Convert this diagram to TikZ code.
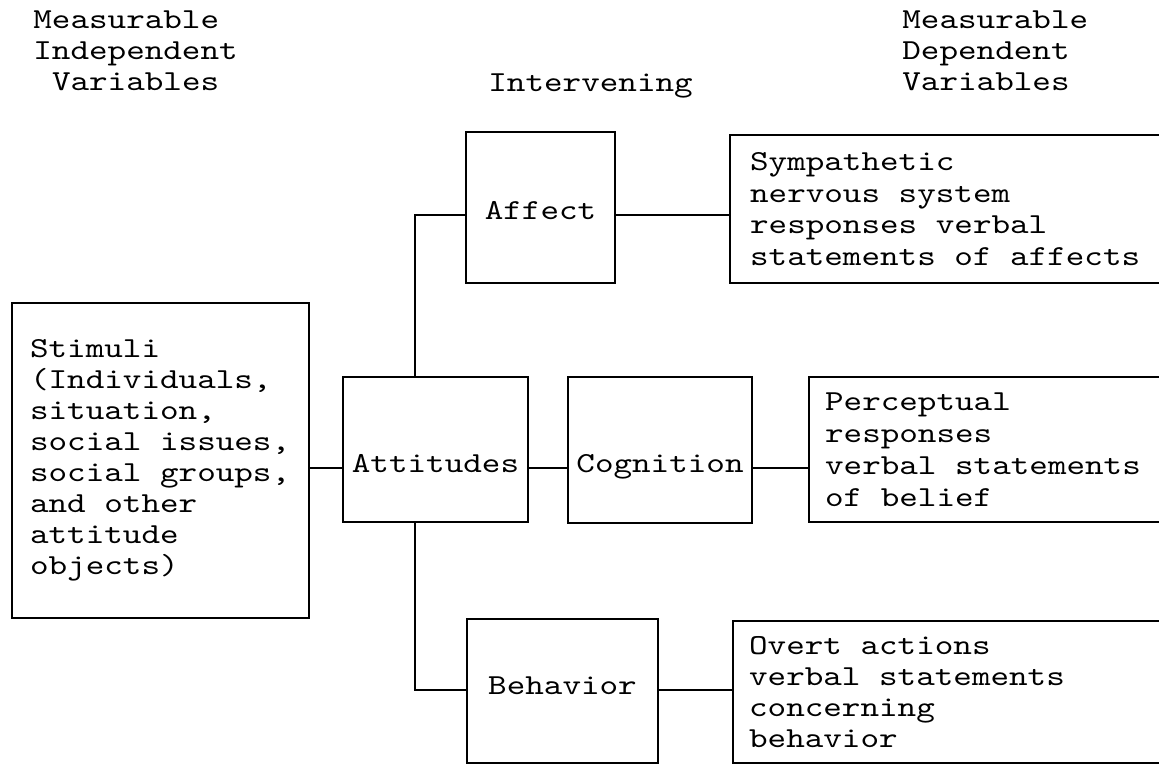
\documentclass[tikz,border=0pt]{standalone}
\usepackage{fontspec}
\usepackage{tikz}
\usetikzlibrary{calc,positioning}
\newfontfamily\typewriter[Extension=.otf, FakeStretch=1.22]{lmmono10-regular}
\newcommand\mono[1]{\typewriter\fontsize{14.5}{#1}\selectfont}

\begin{document}
\begin{tikzpicture}[x=0.5pt, y=-0.5pt,
  every node/.style={font=\mono{15.5pt}, execute at begin node={\spaceskip=9.3pt\relax}},
  unit/.style={draw, line width=1.1pt, inner sep=0pt, align=center},
  textbox/.style={draw, line width=1.1pt, inner ysep=0pt, align=left},
  link/.style={line width=1pt}]
\clip (0,0) rectangle (1159,765);

% column headings
\node[anchor=west, inner sep=0pt, align=left] (indep) at (33,51) {Measurable\\Independent\\\hspace*{9.3pt}Variables};
\node[anchor=base west, inner sep=0pt] (interv) at (488,91) {Intervening};
\node[anchor=west, inner sep=0pt, align=left] (dep) at (902,51) {Measurable\\Dependent\\Variables};

% independent variables
\node[textbox, anchor=west, inner xsep=9pt, text width=130.5pt, minimum height=157.5pt] (stim) at (11,460.5)
  {Stimuli\\(Individuals,\\situation,\\social issues,\\social groups,\\and other\\attitude\\objects)};

% intervening
\node[unit, anchor=base, minimum width=92.5pt, text height=47.5pt, text depth=25pt] (att) at (435.5,472) {Attitudes};
\node[unit, anchor=base, minimum width=74.5pt, text height=43.5pt, text depth=32pt] (aff) at (540.5,219) {Affect};
\node[unit, anchor=base, minimum width=92pt, text height=47.75pt, text depth=25.25pt] (cog) at (660,472.5) {Cognition};
\node[unit, anchor=base, minimum width=95.5pt, text height=37.5pt, text depth=34.5pt] (beh) at (562.5,694) {Behavior};

% dependent variables
\node[textbox, anchor=west, inner xsep=10pt, text width=205.5pt, minimum height=74pt, font=\mono{15.85pt}] (sym) at (729,209)
  {Sympathetic\\nervous system\\responses verbal\\statements of affects};
\node[textbox, anchor=west, inner xsep=8pt, text width=170pt, minimum height=72.5pt, font=\mono{16pt}] (perc) at (808,449.5)
  {Perceptual\\responses\\verbal statements\\of belief};
\node[textbox, anchor=west, inner xsep=8pt, text width=208pt, minimum height=71pt] (overt) at (732,692)
  {Overt actions\\verbal statements\\concerning\\behavior};

% connectors
\draw[link] (stim.east |- att.mid west) -- (att.mid west);
\draw[link] (att.mid east) -- (att.mid east -| cog.west);
\draw[link] (cog.mid east) -- (cog.mid east -| perc.west);
\draw[link] (aff.mid east) -- (aff.mid east -| sym.west);
\draw[link] (beh.mid east) -- (beh.mid east -| overt.west);
\draw[link] ([xshift=36.5pt]att.north west) |- (aff.mid west);
\draw[link] ([xshift=36.5pt]att.south west) |- (beh.mid west);
\end{tikzpicture}
\end{document}
